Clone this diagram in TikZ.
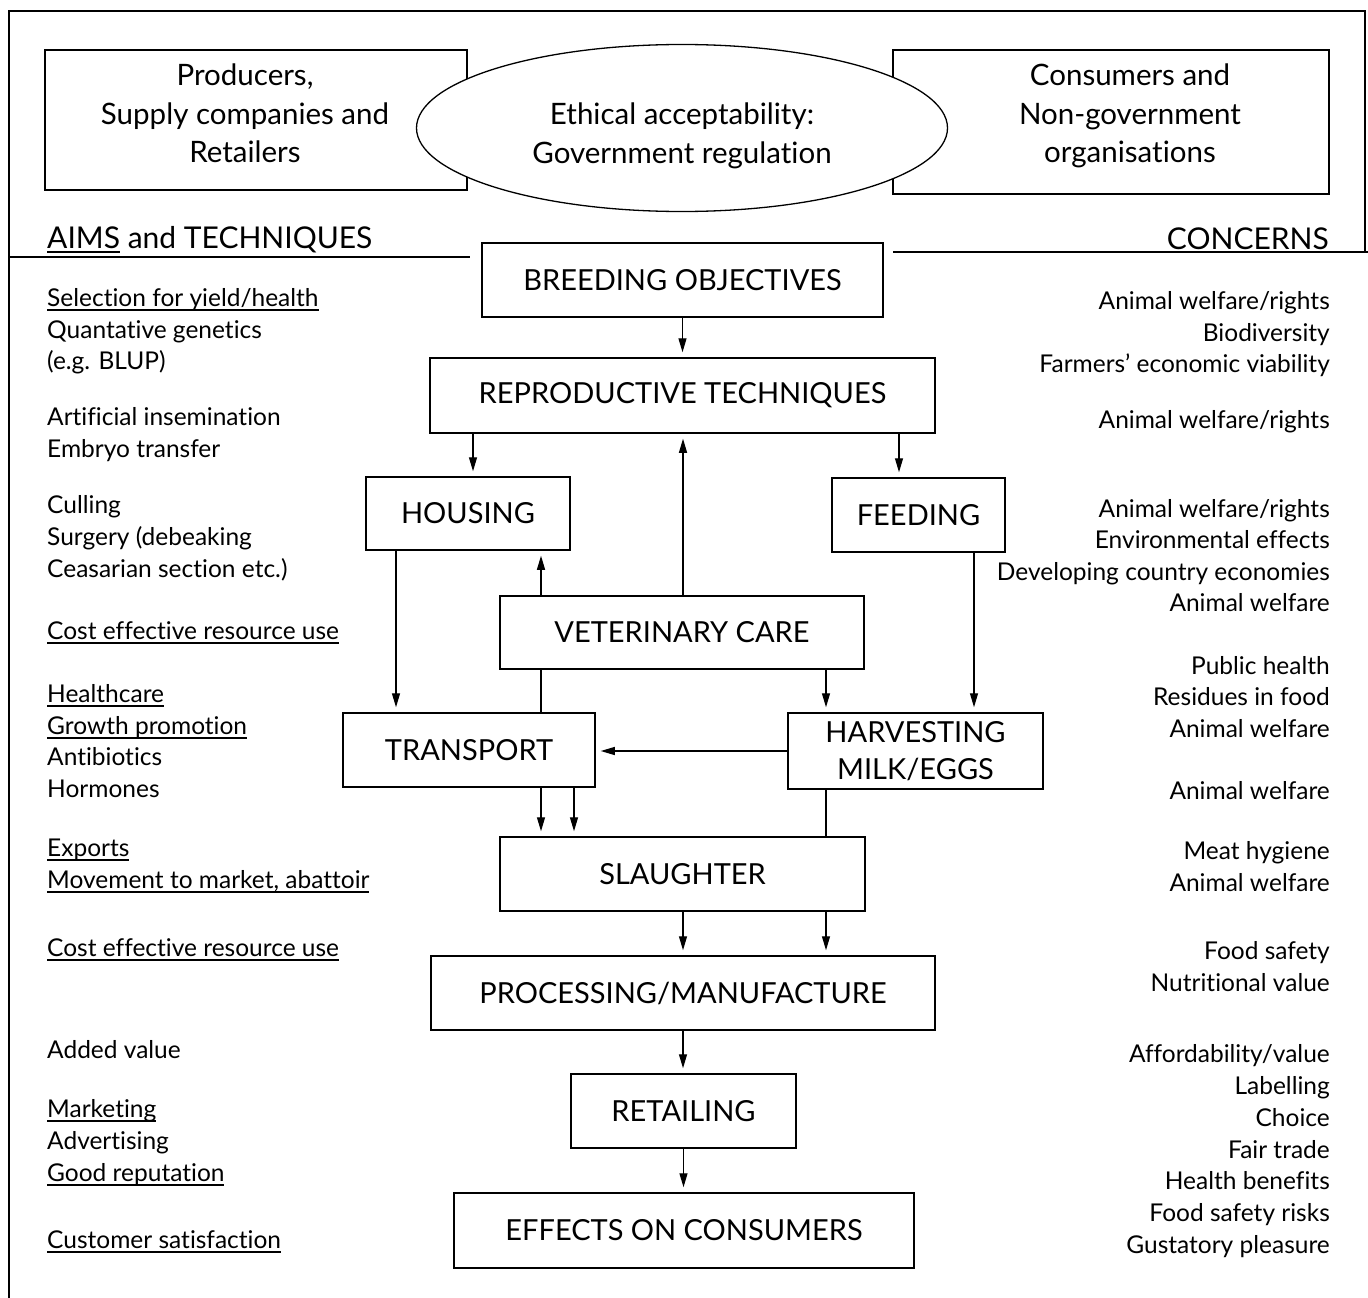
\documentclass[tikz,border=0pt]{standalone}
\usepackage{fontspec}
\setmainfont{Lato}[Ligatures=NoCommon]
\usetikzlibrary{arrows.meta,shapes.geometric,calc}
\newcommand\bxfont{\fontsize{29}{37}\selectfont}
\newcommand\sdfont{\fontsize{24.5}{31}\selectfont}
\newcommand\tpfont{\fontsize{29.5}{38.5}\selectfont}
\newcommand\hdfont{\fontsize{30}{32}\selectfont}
\newcommand\myul[1]{\setbox0\hbox{#1}\rlap{\rule[-4.5pt]{\wd0}{1.8pt}}\box0\relax}
\begin{document}
\begin{tikzpicture}[x=1pt,y=-1pt,
  box/.style={draw, line width=1.5pt, inner sep=0pt, font=\bxfont, align=center},
  arr/.style={-{Triangle[length=14pt,width=8pt]}, line width=1.3pt, shorten >=5pt},
  ln/.style={line width=1.3pt},
  frame/.style={line width=1.8pt},
  side/.style={font=\sdfont, inner sep=0pt}]
\useasboundingbox (0,0) rectangle (1368,1298);
% frame
\draw[frame] (9,1298) -- (9,11) -- (1365,11) -- (1365,252);
\draw[frame] (9,257) -- (470,257);
\draw[frame] (893,252) -- (1368,252);
% top boxes
\node[box, minimum width=422, minimum height=140] (prod) at (256,120) {};
\node[box, minimum width=436, minimum height=144] (cons) at (1111,122) {};
\node[draw, ellipse, line width=1.3pt, fill=white, minimum width=531, minimum height=167] (ethic) at (682,128) {};
\node[font=\tpfont, align=center, inner sep=0pt] (prodt) at (245,113.5) {Producers,\\Supply companies and\\Retailers};
\node[font=\tpfont, align=center, inner sep=0pt] (const) at (1130,116) {Consumers and\\Non-government\\organisations};
\node[font=\tpfont, align=center, inner sep=0pt] (ethict) at (682,136) {Ethical acceptability:\\Government regulation};
% headings
\node[font=\hdfont, anchor=base west, inner sep=0pt] (aims) at (47,248) {\myul{AIMS} and TECHNIQUES};
\node[font=\hdfont, anchor=base east, inner sep=0pt] (conc) at (1329,249) {CONCERNS};
% central boxes
\node[box, minimum width=401, minimum height=74] (breed) at (682.5,280) {BREEDING OBJECTIVES};
\node[box, minimum width=505, minimum height=75] (repro) at (682.5,395.5) {REPRODUCTIVE TECHNIQUES};
\node[box, minimum width=204, minimum height=73] (house) at (468,513.5) {HOUSING};
\node[box, minimum width=173, minimum height=74] (feed) at (918.5,515) {FEEDING};
\node[box, minimum width=364, minimum height=73] (vet) at (682,632.5) {VETERINARY CARE};
\node[box, minimum width=252, minimum height=74] (trans) at (469,750) {TRANSPORT};
\node[box, minimum width=255, minimum height=76] (harv) at (915.5,751) {HARVESTING\\MILK/EGGS};
\node[box, minimum width=365, minimum height=74] (slau) at (682.5,874) {SLAUGHTER};
\node[box, minimum width=504, minimum height=74] (proc) at (683,993) {PROCESSING/MANUFACTURE};
\node[box, minimum width=225, minimum height=74] (retl) at (683.5,1111) {RETAILING};
\node[box, minimum width=460, minimum height=75] (effc) at (684,1230.5) {EFFECTS ON CONSUMERS};
% helper x positions
\coordinate (xa) at (473,0);
\coordinate (xb) at (899,0);
\coordinate (xc) at (396,0);
\coordinate (xd) at (541,0);
\coordinate (xe) at (683,0);
\coordinate (xf) at (974,0);
\coordinate (xg) at (826,0);
\coordinate (xh) at (574,0);
% connectors
\draw[arr] (breed.south) -- (breed.south |- repro.north);
\draw[arr] (xa |- repro.south) -- (xa |- house.north);
\draw[arr] (xb |- repro.south) -- (xb |- feed.north);
\draw[arr] (xc |- house.south) -- (xc |- trans.north);
\draw[arr] (xd |- vet.north) -- (xd |- house.south);
\draw[arr] (xe |- vet.north) -- (xe |- repro.south);
\draw[arr] (xf |- feed.south) -- (xf |- harv.north);
\draw[ln] (xd |- vet.south) -- (xd |- trans.north);
\draw[arr] (xg |- vet.south) -- (xg |- harv.north);
\draw[arr] (harv.west |- 0,751) -- (trans.east |- 0,751);
\draw[arr] (xd |- trans.south) -- (xd |- slau.north);
\draw[arr] (xh |- trans.south) -- (xh |- slau.north);
\draw[ln] (xg |- harv.south) -- (xg |- slau.north);
\draw[arr] (xe |- slau.south) -- (xe |- proc.north);
\draw[arr] (xg |- slau.south) -- (xg |- proc.north);
\draw[arr] (proc.south) -- (proc.south |- retl.north);
\draw[arr] (retl.south) -- (retl.south |- effc.north);
% left column
\foreach \yy/\tt [count=\i] in {
 299/{\myul{Selection for yield/health}},
 331/{Quantative genetics},
 362/{(e.g. BLUP)},
 418/{Artificial insemination},
 450/{Embryo transfer},
 506/{Culling},
 538/{Surgery (debeaking},
 570/{Ceasarian section etc.)},
 632/{\myul{Cost effective resource use}},
 695/{\myul{Healthcare}},
 727/{\myul{Growth promotion}},
 758/{Antibiotics},
 790/{Hormones},
 849/{\myul{Exports}},
 881/{\myul{Movement to market, abattoir}},
 949/{\myul{Cost effective resource use}},
 1051/{Added value},
 1110/{\myul{Marketing}},
 1142/{Advertising},
 1174/{\myul{Good reputation}},
 1241/{\myul{Customer satisfaction}}}
 \node[side, anchor=base west] (L\i) at (47,\yy+7) {\tt};
% right column
\foreach \yy/\tt [count=\i] in {
 302/{Animal welfare/rights},
 334/{Biodiversity},
 365/{Farmers' economic viability},
 421/{Animal welfare/rights},
 510/{Animal welfare/rights},
 541/{Environmental effects},
 573/{Developing country economies},
 604/{Animal welfare},
 667/{Public health},
 698/{Residues in food},
 730/{Animal welfare},
 792/{Animal welfare},
 852/{Meat hygiene},
 884/{Animal welfare},
 952/{Food safety},
 984/{Nutritional value},
 1055/{Affordability/value},
 1087/{Labelling},
 1119/{Choice},
 1151/{Fair trade},
 1182/{Health benefits},
 1214/{Food safety risks},
 1246/{Gustatory pleasure}}
 \node[side, anchor=base east] (R\i) at (1330,\yy+7) {\tt};
\end{tikzpicture}
\end{document}
